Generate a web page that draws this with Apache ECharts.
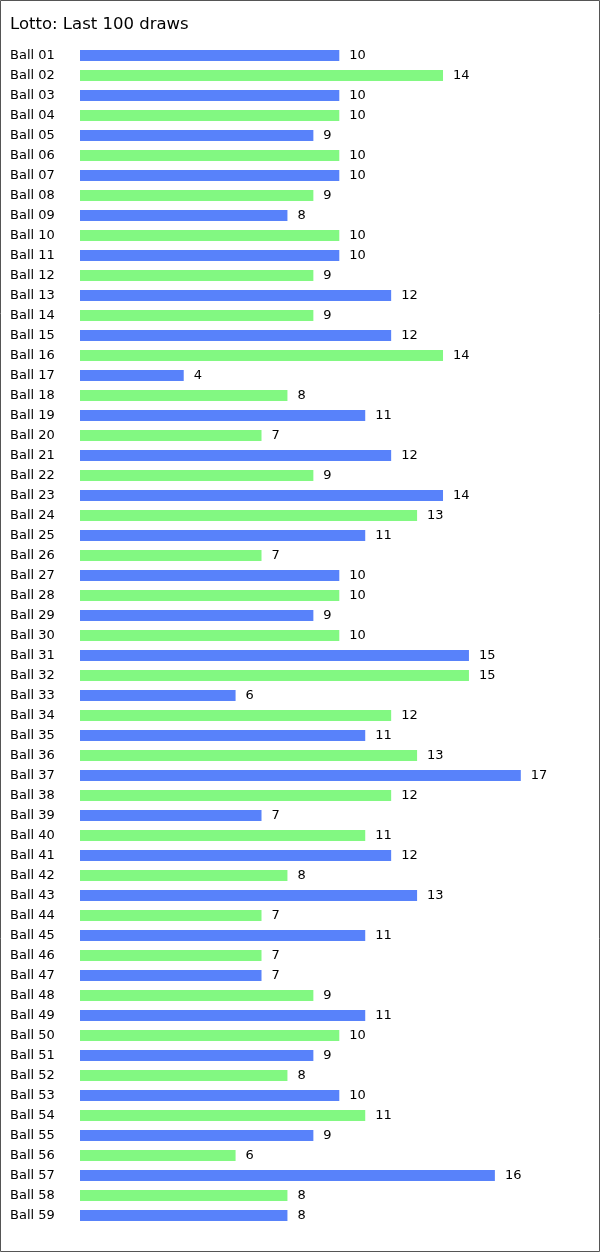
<!DOCTYPE html>
<html>
<head>
<meta charset="utf-8">
<script src="https://cdn.jsdelivr.net/npm/echarts@6/dist/echarts.min.js"></script>
<style>
html,body{margin:0;padding:0;background:#fff;}
#chart{width:600px;height:1252px;}
</style>
</head>
<body>
<div id="chart"></div>
<script>
const titleText = 'Lotto: Last 100 draws';
const categories = [];
for (let i = 1; i <= 59; i++) categories.push('Ball ' + (i < 10 ? '0' + i : '' + i));
const counts = [
  10, 14, 10, 10, 9, 10, 10, 9, 8, 10,
  10, 9, 12, 9, 12, 14, 4, 8, 11, 7,
  12, 9, 14, 13, 11, 7, 10, 10, 9, 10,
  15, 15, 6, 12, 11, 13, 17, 12, 7, 11,
  12, 8, 13, 7, 11, 7, 7, 9, 11, 10,
  9, 8, 10, 11, 9, 6, 16, 8, 8
];
const palette = ['#5882fa', '#82f882'];

const chart = echarts.init(document.getElementById('chart'), null, {renderer: 'canvas'});
chart.setOption({
  animation: false,
  backgroundColor: '#fff',
  textStyle: {fontFamily: 'DejaVu Sans'},
  title: {
    text: titleText,
    left: 10,
    top: 16,
    padding: 0,
    textStyle: {fontFamily: 'DejaVu Sans', fontSize: 16.5, fontWeight: 'normal', color: '#000'}
  },
  graphic: [{
    type: 'rect',
    shape: {x: 0.5, y: 0.5, width: 599, height: 1251},
    style: {fill: 'none', stroke: '#555', lineWidth: 1},
    silent: true,
    z: 100
  }],
  grid: {left: 80, top: 45.5, width: 518.6, height: 1180, containLabel: false},
  xAxis: {
    type: 'value', min: 0, max: 20, show: false
  },
  yAxis: {
    type: 'category',
    data: categories,
    inverse: true,
    axisLine: {show: false},
    axisTick: {show: false},
    splitLine: {show: false},
    axisLabel: {
      align: 'left', margin: 70, fontSize: 13, color: '#000', fontFamily: 'DejaVu Sans', interval: 0
    }
  },
  series: [{
    type: 'bar',
    data: counts,
    barWidth: 11,
    itemStyle: {color: p => palette[p.dataIndex % 2]},
    label: {
      show: true, position: 'right', distance: 10,
      fontSize: 13, color: '#000', fontFamily: 'DejaVu Sans'
    }
  }]
});
</script>
</body>
</html>
